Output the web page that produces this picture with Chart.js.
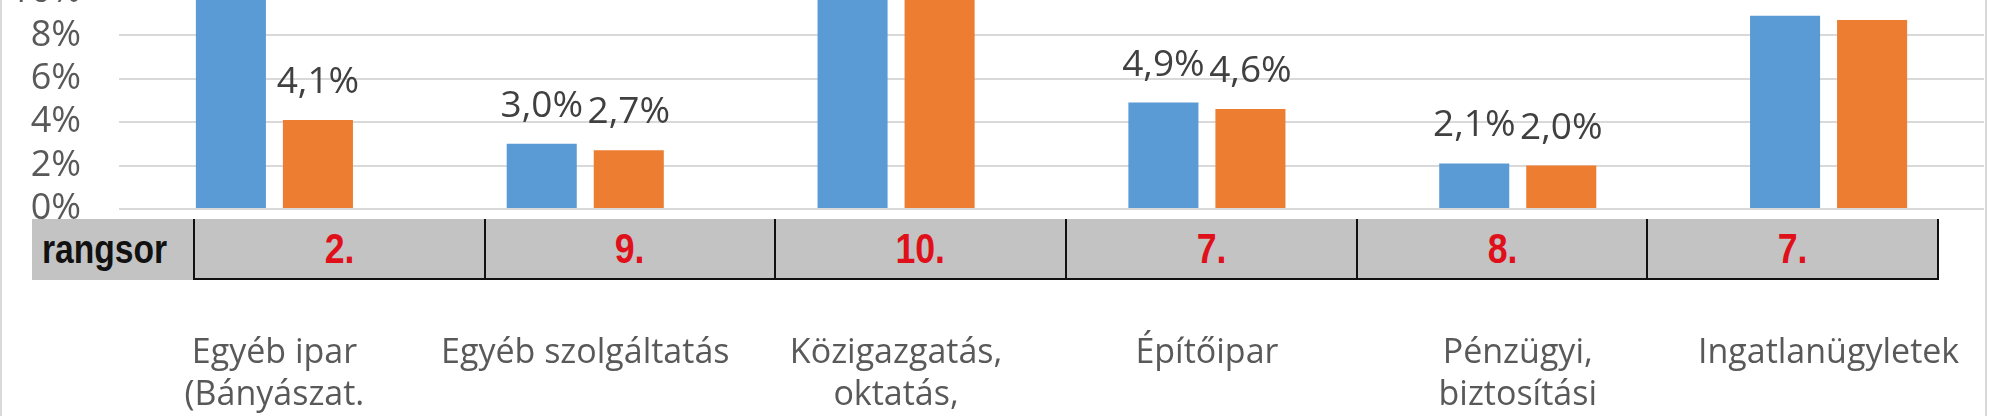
<!DOCTYPE html>
<html>
<head>
<meta charset="utf-8">
<script src="https://cdn.jsdelivr.net/npm/chart.js@4/dist/chart.umd.min.js"></script>
<style>
  html, body { margin: 0; padding: 0; background: #fff; }
  body { width: 1990px; height: 416px; overflow: hidden; position: relative; }
  #wrap { position: absolute; left: 0; top: -157px; width: 1984px; height: 586px; }
  .frame { position: absolute; top: 0; width: 2px; height: 416px; background: #d9d9d9; }
  #rankLabel {
    position: absolute; left: 32px; top: 219px; width: 161px; height: 61px;
    background: #c3c3c3; color: #111; box-sizing: border-box;
    font: bold 40px "Liberation Sans", Arial, sans-serif;
    line-height: 60px; white-space: nowrap;
  }
  #rankLabel span { display: inline-block; transform: scaleX(0.84); transform-origin: 0 50%; margin-left: 10px; }
  #rankRow { position: absolute; left: 193px; top: 219px; width: 1746px; height: 61px; display: flex; }
  #rankRow div {
    flex: 1; box-sizing: border-box; background: #c3c3c3;
    border-left: 2px solid #111; border-bottom: 2px solid #111;
    text-align: center; color: #e0101a;
    font: bold 42px "Liberation Sans", Arial, sans-serif;
    line-height: 59px;
  }
  #rankRow div span { display: inline-block; transform: scaleX(0.85); }
  #rankRow div:last-child { border-right: 2px solid #111; }
</style>
</head>
<body>
<div id="wrap"><canvas id="chart" width="1984" height="586"></canvas></div>
<div class="frame" style="left:0"></div>
<div class="frame" style="left:1985px"></div>
<div id="rankLabel"><span>rangsor</span></div>
<div id="rankRow"></div>
<script>
const categories = [
  ['Egyéb ipar', '(Bányászat.'],
  'Egyéb szolgáltatás',
  ['Közigazgatás,', 'oktatás,'],
  'Építőipar',
  ['Pénzügyi,', 'biztosítási'],
  'Ingatlanügyletek'
];
// first and third groups go past the top of the picture, so those are guesses
const series1 = [12.5, 3.0, 11.4, 4.9, 2.1, 8.9];
const series2 = [4.1, 2.7, 11.0, 4.6, 2.0, 8.7];
const yMax = 14;
const yStep = 2;
const ranks = ['2.', '9.', '10.', '7.', '8.', '7.'];

// rank strip under the plot
const row = document.getElementById('rankRow');
ranks.forEach(r => {
  const cell = document.createElement('div');
  const s = document.createElement('span');
  s.textContent = r;
  cell.appendChild(s);
  row.appendChild(cell);
});

// value labels above the bars, e.g. 4,1%
const valueLabels = {
  id: 'valueLabels',
  afterDatasetsDraw(chart) {
    const ctx = chart.ctx;
    ctx.save();
    ctx.font = '37px "Open Sans"';
    ctx.fillStyle = '#404040';
    ctx.textAlign = 'center';
    ctx.textBaseline = 'alphabetic';
    chart.data.datasets.forEach((ds, i) => {
      chart.getDatasetMeta(i).data.forEach((bar, j) => {
        const txt = ds.data[j].toFixed(1).replace('.', ',') + '%';
        ctx.fillText(txt, bar.x, bar.y - 27);
      });
    });
    ctx.restore();
  }
};

const ctx = document.getElementById('chart').getContext('2d');
new Chart(ctx, {
  type: 'bar',
  data: {
    labels: categories,
    datasets: [{
      label: 'Adatsor1',
      data: series1,
      backgroundColor: '#5b9bd5',
      categoryPercentage: 0.56,
      barPercentage: 0.805
    }, {
      label: 'Adatsor2',
      data: series2,
      backgroundColor: '#ed7d31',
      categoryPercentage: 0.56,
      barPercentage: 0.805
    }]
  },
  options: {
    responsive: false,
    animation: false,
    devicePixelRatio: 1,
    // top padding is larger than the y label overflow, so it fixes the plot top
    layout: { padding: { top: 62, left: 0, right: 0, bottom: 0 } },
    plugins: { legend: { display: false }, tooltip: { enabled: false } },
    scales: {
      x: {
        // invisible tick marks push the labels down without widening the side padding
        grid: { display: true, drawOnChartArea: false, drawTicks: true, tickLength: 120, tickColor: 'rgba(0,0,0,0)' },
        border: { display: false },
        ticks: {
          color: '#595959',
          padding: 3,
          maxRotation: 0,
          autoSkip: false,
          font: { family: 'Open Sans', size: 34, lineHeight: 1.25 }
        },
        afterFit: s => { s.height = 220; }
      },
      y: {
        min: 0,
        max: yMax,
        grid: { color: '#d9d9d9', lineWidth: 2, drawTicks: false },
        border: { display: false },
        ticks: {
          stepSize: yStep,
          autoSkip: false,
          padding: 38,
          color: '#595959',
          font: { family: 'Open Sans', size: 36 },
          callback: v => v + '%'
        },
        afterFit: s => { s.width = 119; }
      }
    }
  },
  plugins: [valueLabels]
});
</script>
</body>
</html>
